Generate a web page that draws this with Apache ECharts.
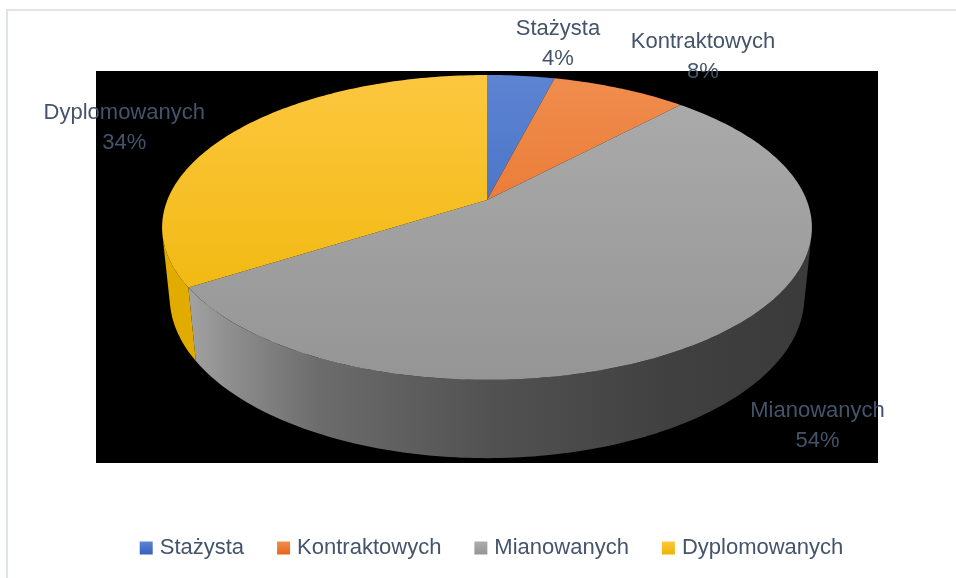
<!DOCTYPE html>
<html>
<head>
<meta charset="utf-8">
<script src="https://cdn.jsdelivr.net/npm/echarts@6/dist/echarts.min.js"></script>
<style>
html, body { margin: 0; padding: 0; overflow: hidden; background: #fff; }
#main { width: 983px; height: 578px; }
</style>
</head>
<body>
<div id="main"></div>
<script>
// dane wykresu
var categories = ['Stażysta', 'Kontraktowych', 'Mianowanych', 'Dyplomowanych'];
var values = [4, 8, 54, 34];

// kolory (gora / dol sciany / bok)
var topColors = [['#5d84d2', '#3560bd'], ['#f08d4e', '#e4661a'], ['#acacac', '#959595'], ['#fcc73f', '#eeb400']];
var sideColors = [null, null, null, [['#e2ab00', 0], ['#d8a200', 1]]];
var grayStops = [['#a6a6a6', 0], ['#8e8e8e', 0.08], ['#6c6c6c', 0.22], ['#515151', 0.5], ['#404040', 0.78], ['#3a3a3a', 1]];
var labelOffsets = [[37, -32], [83, -31], [94, 94], [-105, -7]];

// rzut perspektywiczny
var CX = 487, CY = 200, S = 1576, R = 0.2028, CA = 0.8871, SA = 0.4615, H = 0.0502;
var VIS = Math.acos(R / CA);

function proj(theta, h) {
	var X = R * Math.sin(theta), Z = R * Math.cos(theta);
	var w = 1 + Z * CA - h * SA;
	return [CX + S * X / w, CY + S * (-Z * SA - h * CA) / w];
}

function arc(a, b, h) {
	var pts = [];
	var n = Math.max(2, Math.ceil((b - a) / (Math.PI / 180)));
	for (var i = 0; i <= n; i++) {
		pts.push(proj(a + (b - a) * i / n, h));
	}
	return pts;
}

var total = 0;
for (var i = 0; i < values.length; i++) total += values[i];

function stops(arr) {
	return arr.map(function (s) { return { offset: s[1], color: s[0] }; });
}

function renderSlice(params, api) {
	var idx = params.seriesIndex;
	var before = 0;
	for (var i = 0; i < idx; i++) before += values[i];
	var v = api.value(0);
	var a = before / total * Math.PI * 2;
	var b = (before + v) / total * Math.PI * 2;
	var children = [];

	// gorna powierzchnia (srodek kola + luk)
	var topPts = [[CX, CY]].concat(arc(a, b, 0));
	children.push({
		type: 'polygon',
		z2: 10,
		shape: { points: topPts },
		style: {
			fill: new echarts.graphic.LinearGradient(0, 75, 0, 380, [
				{ offset: 0, color: topColors[idx][0] },
				{ offset: 1, color: topColors[idx][1] }
			], true)
		}
	});

	// sciana boczna (tylko widoczna czesc z przodu)
	var va = Math.max(a, Math.PI - VIS), vb = Math.min(b, Math.PI + VIS);
	if (vb > va) {
		var up = arc(va, vb, 0);
		var down = arc(va, vb, -H).reverse();
		var sStops = idx == 2 ? grayStops : (sideColors[idx] || [[topColors[idx][1], 0], [topColors[idx][1], 1]]);
		children.push({
			type: 'polygon',
			z2: 5,
			shape: { points: up.concat(down) },
			style: {
				fill: new echarts.graphic.LinearGradient(180, 0, 812, 0, stops(sStops), true)
			}
		});
	}

	// etykieta
	var mid = (a + b) / 2;
	var p = proj(mid, 0);
	children.push({
		type: 'text',
		z2: 20,
		style: {
			text: categories[idx] + '\n' + Math.round(v / total * 100) + '%',
			x: p[0] + labelOffsets[idx][0],
			y: p[1] + labelOffsets[idx][1],
			align: 'center',
			verticalAlign: 'middle',
			fill: '#44546A',
			font: '22px "Liberation Sans"',
			lineHeight: 30
		}
	});
	return { type: 'group', children: children };
}

var seriesList = [];
for (var i = 0; i < categories.length; i++) {
	seriesList.push({
		name: categories[i],
		type: 'custom',
		coordinateSystem: 'none',
		renderItem: renderSlice,
		itemStyle: {
			color: new echarts.graphic.LinearGradient(0, 0, 0, 1, [
				{ offset: 0, color: topColors[i][0] },
				{ offset: 1, color: topColors[i][1] }
			])
		},
		data: [[values[i]]]
	});
}

var myChart = echarts.init(document.getElementById('main'));
myChart.setOption({
	animation: false,
	graphic: [{
		type: 'rect',
		shape: { x: 7, y: 10, width: 1200, height: 1200 },
		style: { fill: '#fff', stroke: '#dfe3ea', lineWidth: 2 },
		z: -10
	}, {
		type: 'rect',
		shape: { x: 96, y: 71, width: 782, height: 392 },
		style: { fill: '#000' },
		z: -5
	}],
	legend: {
		data: categories,
		left: 'center',
		top: 537,
		icon: 'rect',
		itemWidth: 13,
		itemHeight: 13,
		itemGap: 33,
		padding: 0,
		textStyle: {
			fontFamily: 'Liberation Sans',
			fontSize: 22,
			color: '#44546A',
			padding: [0, 0, 0, 2]
		}
	},
	series: seriesList
});
</script>
</body>
</html>
